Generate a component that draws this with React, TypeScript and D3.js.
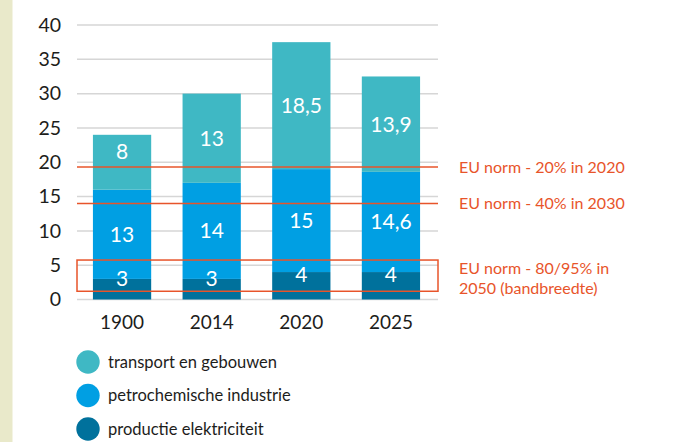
import React from "react";
import * as d3 from "d3";

const categories = ["1900", "2014", "2020", "2025"];
const elektriciteit = [3, 3, 4, 4];
const petrochemie = [13, 14, 15, 14.6];
const transport = [8, 13, 18.5, 13.9];
const seriesNames = ["productie elektriciteit", "petrochemische industrie", "transport en gebouwen"];
const legendOrder = ["transport en gebouwen", "petrochemische industrie", "productie elektriciteit"];
const yTicks = [0, 5, 10, 15, 20, 25, 30, 35, 40];
const normLines = [19.3, 14];
const normLineLabels = ["EU norm - 20% in 2020", "EU norm - 40% in 2030"];
const normBand = [1.2, 5.75];
const normBandLabel = ["EU norm - 80/95% in", "2050 (bandbreedte)"];

const W = 678;
const H = 442;
const colors: Record<string, string> = {
  "productie elektriciteit": "#00719c",
  "petrochemische industrie": "#009fe3",
  "transport en gebouwen": "#3fb8c4",
};
const RED = "#e8542a";
const FONT = "Lato, 'Open Sans', sans-serif";

function fmt(v: number) {
  return String(v).replace(".", ",");
}

export default function App() {
  const x = d3.scaleBand<string>().domain(categories).range([75, 438]).paddingInner(0.35).paddingOuter(0.2);
  const y = d3.scaleLinear().domain([0, 40]).range([299.5, 25]);

  const valuesBySeries: Record<string, number[]> = {
    "productie elektriciteit": elektriciteit,
    "petrochemische industrie": petrochemie,
    "transport en gebouwen": transport,
  };
  const rows = categories.map((c, i) => ({
    cat: c,
    "productie elektriciteit": elektriciteit[i],
    "petrochemische industrie": petrochemie[i],
    "transport en gebouwen": transport[i],
  }));
  const stacked = d3.stack<any>().keys(seriesNames)(rows);
  const topLabelLimit = y(normLines[0]) - 15;

  return (
    <svg width={W} height={H} style={{ position: "fixed", left: 0, top: 0, background: "#fff" }} fontFamily={FONT}>
      <rect x={0} y={0} width={12.5} height={H} fill="#e9e9ca" />
      {yTicks.map((t) => (
        <line key={"g" + t} x1={77} x2={438} y1={y(t)} y2={y(t)} stroke="#d6d6d6" strokeWidth={1.5} />
      ))}
      {yTicks.map((t) => (
        <text key={"t" + t} x={61} y={y(t)} dy="0.35em" textAnchor="end" fontSize={19.5} fill="#1d1d1b">
          {t}
        </text>
      ))}
      {stacked.map((s) =>
        s.map((d, i) => (
          <rect
            key={s.key + i}
            x={x(categories[i])!}
            y={y(d[1])}
            width={x.bandwidth()}
            height={y(d[0]) - y(d[1])}
            fill={colors[s.key]}
          />
        ))
      )}
      {stacked.map((s, si) =>
        s.map((d, i) => {
          let cy = (y(d[0]) + y(d[1])) / 2;
          if (si === 0) cy -= 11;
          if (si === 2) cy = Math.min(cy, topLabelLimit);
          return (
            <text
              key={"l" + s.key + i}
              x={x(categories[i])! + x.bandwidth() / 2}
              y={cy}
              dy="0.35em"
              textAnchor="middle"
              fontSize={21}
              fill="#fff"
            >
              {fmt(valuesBySeries[s.key as string][i])}
            </text>
          );
        })
      )}
      {normLines.map((v, i) => (
        <g key={"n" + i}>
          <line x1={77} x2={438} y1={y(v)} y2={y(v)} stroke={RED} strokeWidth={1.5} />
          <text x={459} y={y(v)} dy="0.35em" fontSize={16} fill={RED}>
            {normLineLabels[i]}
          </text>
        </g>
      ))}
      <rect
        x={77}
        y={y(normBand[1])}
        width={438 - 77}
        height={y(normBand[0]) - y(normBand[1])}
        fill="none"
        stroke={RED}
        strokeWidth={1.5}
      />
      {normBandLabel.map((t, i) => (
        <text key={"b" + i} x={459} y={268 + i * 20.5} dy="0.35em" fontSize={16} fill={RED}>
          {t}
        </text>
      ))}
      {categories.map((c) => (
        <text key={"x" + c} x={x(c)! + x.bandwidth() / 2} y={322} dy="0.35em" textAnchor="middle" fontSize={19} fill="#1d1d1b">
          {c}
        </text>
      ))}
      {legendOrder.map((k, i) => (
        <g key={"lg" + k} transform={`translate(88, ${362 + i * 33.5})`}>
          <circle r={11.7} fill={colors[k]} />
          <text x={20} dy="0.35em" fontSize={16.5} fill="#1d1d1b">
            {k}
          </text>
        </g>
      ))}
    </svg>
  );
}
